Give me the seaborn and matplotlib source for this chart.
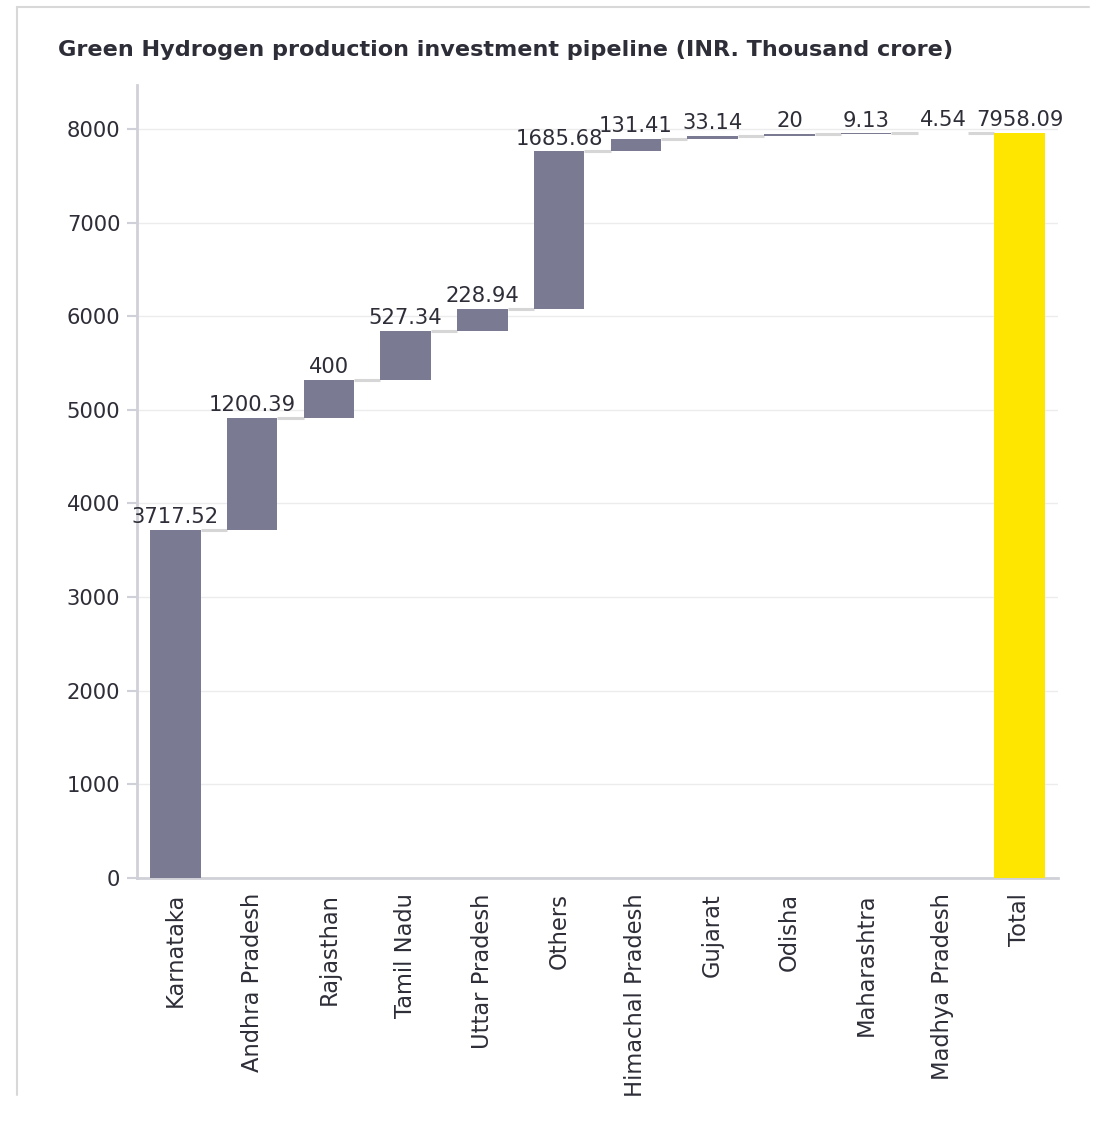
import matplotlib
matplotlib.use("Agg")
import matplotlib.pyplot as plt
import seaborn as sns
import numpy as np
import pandas as pd
from matplotlib.lines import Line2D

categories = ["Karnataka", "Andhra Pradesh", "Rajasthan", "Tamil Nadu", "Uttar Pradesh",
              "Others", "Himachal Pradesh", "Gujarat", "Odisha", "Maharashtra",
              "Madhya Pradesh", "Total"]
increments = [3717.52, 1200.39, 400, 527.34, 228.94, 1685.68, 131.41, 33.14, 20, 9.13, 4.54]
total_value = 7958.09
labels = ["3717.52", "1200.39", "400", "527.34", "228.94", "1685.68", "131.41",
          "33.14", "20", "9.13", "4.54", "7958.09"]
y_ticks = [0, 1000, 2000, 3000, 4000, 5000, 6000, 7000, 8000]
title = "Green Hydrogen production investment pipeline (INR. Thousand crore)"

cum = np.cumsum(increments)
bottoms = list(np.concatenate([[0], cum[:-1]])) + [0]
heights = list(increments) + [total_value]
df = pd.DataFrame({"cat": categories, "height": heights, "bottom": bottoms})

sns.set_theme(style="white")
plt.rcParams["font.family"] = ["DejaVu Sans"]

fig = plt.figure(figsize=(11.01, 11.24), dpi=100)
ax = fig.add_axes([0.1244, 0.2189, 0.8366, 0.7055])

bar_color = "#7a7a92"
total_color = "#ffe600"
text_color = "#2e2e38"
sns.barplot(data=df, x="cat", y="height", order=categories, color=bar_color,
            bottom=df["bottom"].to_numpy(), width=0.66, saturation=1, ax=ax,
            linewidth=0, zorder=3)
patches = ax.patches
patches[-1].set_facecolor(total_color)

# connectors
for i in range(len(patches) - 1):
    p, q = patches[i], patches[i + 1]
    level = p.get_y() + p.get_height()
    ax.plot([p.get_x() + p.get_width(), q.get_x()], [level, level],
            color="#d6d6d6", lw=2.2, zorder=2, solid_capstyle="butt")

# value labels
for p, lab in zip(patches, labels):
    ax.annotate(lab, (p.get_x() + p.get_width() / 2, p.get_y() + p.get_height()),
                xytext=(0, 2), textcoords="offset points", ha="center", va="bottom",
                fontsize=15.2, color=text_color, zorder=5)

ax.set_ylim(0, 8470)
ax.set_xlim(-0.5, len(categories) - 0.5)
ax.set_yticks(y_ticks)
ax.set_yticklabels([str(v) for v in y_ticks], fontsize=15.2, color=text_color)
ax.yaxis.grid(True, color="#ececec", lw=1, zorder=0)
ax.set_axisbelow(True)
ax.set_xlabel("")
ax.set_ylabel("")

# x ticks at boundaries, labels centered
ax.set_xticks(np.arange(len(categories)))
ax.set_xticklabels(categories, rotation=90, fontsize=16.3, color=text_color)
ax.tick_params(axis="x", length=0, pad=11)
ax.set_xticks(np.arange(len(categories) + 1) - 0.5, minor=True)
ax.tick_params(axis="x", which="minor", length=7, width=2, color="#d0d0d8", direction="out")
ax.tick_params(axis="y", length=7, width=1.5, color="#d0d0d8", pad=5, left=True)

for s in ["top", "right"]:
    ax.spines[s].set_visible(False)
for s in ["left", "bottom"]:
    ax.spines[s].set_color("#d0d0d8")
    ax.spines[s].set_linewidth(2)

fig.text(58 / 1101, 1 - 50 / 1124, title, fontsize=16.1, fontweight="bold",
         color=text_color, ha="left", va="center")

# outer frame lines
fig.add_artist(Line2D([17 / 1101, 1 - 12 / 1101], [1 - 7 / 1124, 1 - 7 / 1124],
                      color="#d8d8d8", lw=1.5, transform=fig.transFigure))
fig.add_artist(Line2D([17 / 1101, 17 / 1101], [1 - 7 / 1124, 1 - 1095 / 1124],
                      color="#d8d8d8", lw=1.5, transform=fig.transFigure))

fig.savefig("out.png", dpi=100)
